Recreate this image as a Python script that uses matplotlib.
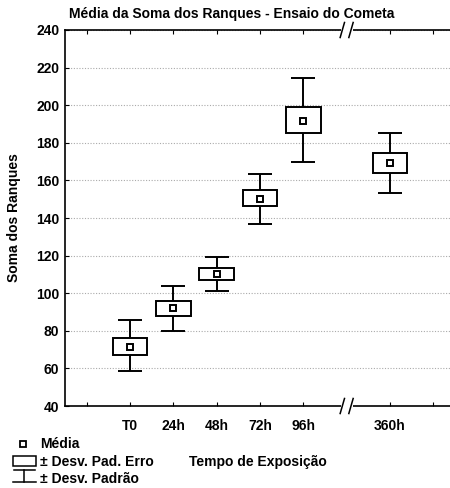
import numpy as np
import matplotlib.pyplot as plt
from matplotlib.patches import Rectangle
from matplotlib.lines import Line2D

plt.rcParams['font.family'] = ['Liberation Sans', 'DejaVu Sans']
plt.rcParams['font.weight'] = 'bold'

# data
labels = ['T0', '24h', '48h', '72h', '96h', '360h']
pos = [1, 2, 3, 4, 5, 7]          # gap at 6 for the axis break
mean = [71.5, 92.0, 110.0, 150.0, 191.5, 169.5]
se_lo = [67.0, 88.0, 107.0, 146.5, 185.0, 164.0]
se_hi = [76.0, 96.0, 113.5, 155.0, 199.0, 174.5]
sd_lo = [58.5, 80.0, 101.0, 137.0, 170.0, 153.5]
sd_hi = [85.5, 104.0, 119.5, 163.5, 214.5, 185.0]
tick_pos = [0, 1, 2, 3, 4, 5, 7, 8]

W, H = 450, 488
fig = plt.figure(figsize=(W / 100, H / 100), dpi=100)
ax = fig.add_axes([65 / W, 1 - 406 / H, 390 / W, 376 / H])

box_w = 0.8
cap_w = 0.56
lw = 1.4
for x, m, bl, bh, wl, wh in zip(pos, mean, se_lo, se_hi, sd_lo, sd_hi):
    ax.vlines(x, wl, bl, color='black', lw=lw, zorder=3)
    ax.vlines(x, bh, wh, color='black', lw=lw, zorder=3)
    ax.hlines([wl, wh], x - cap_w / 2, x + cap_w / 2, color='black', lw=lw, zorder=3)
    ax.add_patch(Rectangle((x - box_w / 2, bl), box_w, bh - bl, fill=False,
                           ec='black', lw=lw, zorder=3))
ax.plot(pos, mean, ls='none', marker='s', ms=5, mfc='white', mec='black',
        mew=1.4, zorder=4)

ax.set_xlim(-0.5, 8.5)
ax.set_ylim(40, 240)
ax.set_yticks(np.arange(40, 241, 20))
ax.yaxis.grid(True, ls=(0, (1, 1.5)), color='#aaaaaa', lw=0.8)
ax.set_axisbelow(True)
ax.set_xticks(tick_pos)
ax.set_xticklabels([''] + labels[:5] + [labels[5], ''])
ax.tick_params(axis='x', direction='in', top=True, length=3, width=0.8,
               labelsize=10, pad=9)
ax.tick_params(axis='y', direction='in', length=3, width=0.8, labelsize=10, pad=4)
for s in ax.spines.values():
    s.set_linewidth(1.2)
ax.spines['right'].set_visible(False)

# axis break marks
for yb in (0, 1):
    ax.add_patch(Rectangle((5.86, yb - 0.012), 0.28, 0.024, transform=ax.get_xaxis_transform(),
                           fc='white', ec='none', clip_on=False, zorder=5))
    for dx in (-0.1, 0.1):
        ax.add_line(Line2D([5.95 + dx, 6.05 + dx], [yb - 0.02, yb + 0.02],
                           transform=ax.get_xaxis_transform(), color='black',
                           lw=1.1, clip_on=False, zorder=6))

ax.set_ylabel('Soma dos Ranques', fontsize=10, fontweight='bold')
ax.yaxis.set_label_coords(-(65 - 21) / 390, 0.5)
fig.text(232 / W, 1 - 14 / H, 'Média da Soma dos Ranques - Ensaio do Cometa',
         ha='center', va='center', fontsize=10, fontweight='bold')
fig.text(258 / W, 1 - 462 / H, 'Tempo de Exposição', ha='center', va='center',
         fontsize=10, fontweight='bold')

# legend drawn in figure pixels
tf = fig.transFigure
def fx(px):
    return px / W
def fy(py):
    return 1 - py / H

fig.add_artist(Line2D([fx(23)], [fy(444)], transform=tf, ls='none', marker='s', ms=5,
                      mfc='white', mec='black', mew=1.3))
fig.add_artist(Rectangle((fx(13), fy(466)), 23 / W, 10 / H, transform=tf, fill=False,
                         ec='black', lw=1.1))
fig.add_artist(Line2D([fx(24), fx(24)], [fy(470), fy(482)], transform=tf, color='black', lw=1.1))
fig.add_artist(Line2D([fx(14), fx(35)], [fy(470), fy(470)], transform=tf, color='black', lw=1.1))
fig.add_artist(Line2D([fx(13), fx(36)], [fy(482), fy(482)], transform=tf, color='black', lw=1.1))
fig.text(fx(40), fy(444), 'Média', va='center', fontsize=10, fontweight='bold')
fig.text(fx(40), fy(462), '± Desv. Pad. Erro', va='center', fontsize=10, fontweight='bold')
fig.text(fx(40), fy(479), '± Desv. Padrão', va='center', fontsize=10, fontweight='bold')

fig.savefig('out.png', dpi=100, facecolor='white')
